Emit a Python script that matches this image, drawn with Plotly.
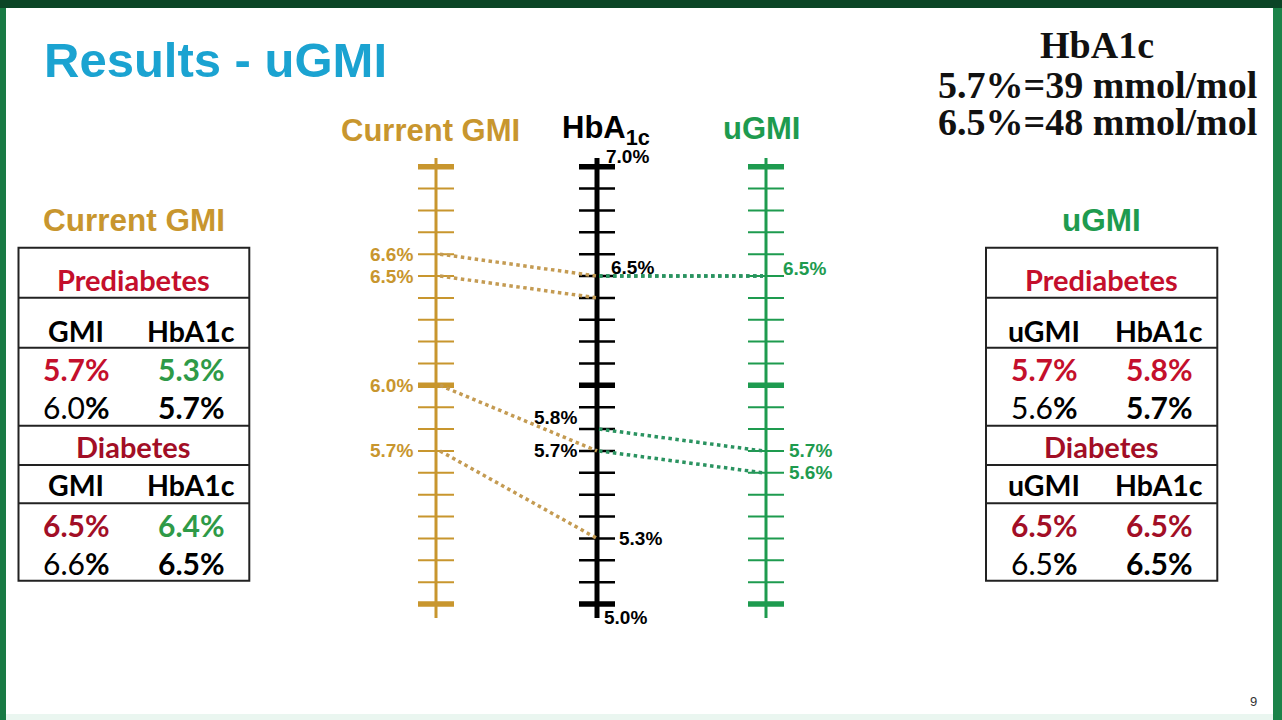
import numpy as np
import plotly.graph_objects as go

# ---- data ----
# Current GMI table: GMI -> measured HbA1c
gmi_pre = [5.7, 6.0]
gmi_pre_hba1c = [5.3, 5.7]
gmi_dia = [6.5, 6.6]
gmi_dia_hba1c = [6.4, 6.5]

# uGMI table: uGMI -> measured HbA1c
ugmi_pre = [5.7, 5.6]
ugmi_pre_hba1c = [5.8, 5.7]
ugmi_dia = [6.5, 6.5]
ugmi_dia_hba1c = [6.5, 6.5]

group_names = ["Prediabetes", "Diabetes"]
scale_names = ["Current GMI", "HbA<sub>1c</sub>", "uGMI"]
scale_min, scale_max, scale_step = 5.0, 7.0, 0.1
scale_major = [5.0, 6.0, 7.0]

gmi_labels = [6.6, 6.5, 6.0, 5.7]
hba1c_labels = [7.0, 6.5, 5.8, 5.7, 5.3, 5.0]
ugmi_labels = [6.5, 5.7, 5.6]

conversion_text = ["HbA1c", "5.7%=39 mmol/mol", "6.5%=48 mmol/mol"]

# ---- layout constants (pixels) ----
W, H = 1282, 720
GOLD = "#C8962E"
GOLD_DOT = "#C49B52"
GREEN = "#1E9B4F"
GREEN_DOT = "#2A9360"
RED = "#C40F2C"
DARK_RED = "#A20E26"
TGREEN = "#2E9A47"
CYAN = "#1BA3D1"

scale_x = [436, 597, 766]
Y7, Y5 = 166.7, 604.0          # pixel rows of 7.0 and 5.0
ppu = (Y5 - Y7) / (scale_max - scale_min)
y_lo, y_hi = 4.5, 7.5
dom = [1 - (Y5 + (scale_min - y_lo) * ppu) / H, 1 - (Y7 - (y_hi - scale_max) * ppu) / H]


def px(x):
    return x / W


def py(y):
    return 1 - y / H


def note(x, y, text, size, color, family="Liberation Sans", xa="center"):
    # text placed in slide pixels
    return dict(x=px(x), y=py(y), xref="paper", yref="paper", text=text, showarrow=False,
                xanchor=xa, yanchor="middle", font=dict(family=family, size=size, color=color))


fig = go.Figure()

ticks = np.round(np.arange(scale_min, scale_max + scale_step / 2, scale_step), 1)
axis_style = [(GOLD, 3, 2), ("#000000", 5, 2.5), (GREEN, 3, 2)]
for cx, (col, aw, tw) in zip(scale_x, axis_style):
    fig.add_trace(go.Scatter(x=[cx, cx], y=[scale_min - 0.064, scale_max + 0.04], mode="lines",
                             line=dict(color=col, width=aw), hoverinfo="skip"))
    xs, ys = [], []
    for t in ticks:
        if t in scale_major:
            continue
        xs += [cx - 18, cx + 18, None]
        ys += [t, t, None]
    fig.add_trace(go.Scatter(x=xs, y=ys, mode="lines", line=dict(color=col, width=tw), hoverinfo="skip"))
    xs, ys = [], []
    for t in scale_major:
        xs += [cx - 18, cx + 18, None]
        ys += [t, t, None]
    fig.add_trace(go.Scatter(x=xs, y=ys, mode="lines", line=dict(color=col, width=5.5), hoverinfo="skip"))

# dotted connectors GMI -> HbA1c
for g, h in zip(gmi_pre + gmi_dia, gmi_pre_hba1c + gmi_dia_hba1c):
    fig.add_trace(go.Scatter(x=[scale_x[0] + 4, scale_x[1]], y=[g, h], mode="lines",
                             line=dict(color=GOLD_DOT, width=3.5, dash="dot"), hoverinfo="skip"))
# dotted connectors HbA1c -> uGMI
for u, h in zip(ugmi_pre + ugmi_dia, ugmi_pre_hba1c + ugmi_dia_hba1c):
    fig.add_trace(go.Scatter(x=[scale_x[1] + 2, scale_x[2] - 3], y=[h, u], mode="lines",
                             line=dict(color=GREEN_DOT, width=3.5, dash="dot"), hoverinfo="skip"))

ann = []
lab_font = "Liberation Sans"
for v in gmi_labels:
    ann.append(dict(x=scale_x[0] - 21, y=v, xref="x", yref="y", text=f"<b>{v:.1f}%</b>",
                    xanchor="right", yanchor="middle", showarrow=False,
                    font=dict(family=lab_font, size=19, color=GOLD)))
hba1c_pos = [(7, 10, "left"), (12, 9, "left"), (-18, 12, "right"), (-18, 0, "right"),
             (20, 0, "left"), (5, -13, "left")]
for v, (dx, dy, side) in zip(hba1c_labels, hba1c_pos):
    ann.append(dict(x=scale_x[1] + dx, y=v, xref="x", yref="y", yshift=dy, text=f"<b>{v:.1f}%</b>",
                    xanchor=side, yanchor="middle", showarrow=False,
                    font=dict(family=lab_font, size=19, color="#000000")))
ugmi_pos = [(15, 8), (21, 0), (21, 0)]
for v, (dx, dy) in zip(ugmi_labels, ugmi_pos):
    ann.append(dict(x=scale_x[2] + dx, y=v, xref="x", yref="y", yshift=dy, text=f"<b>{v:.1f}%</b>",
                    xanchor="left", yanchor="middle", showarrow=False,
                    font=dict(family=lab_font, size=19, color=GREEN)))

# scale headers
for name, cx, col, hy in zip(scale_names, [430, 606, 762], [GOLD, "#000000", GREEN], [130, 130, 128]):
    ann.append(note(cx, hy, f"<b>{name}</b>", 31, col))

# title
ann.append(note(42, 60, "<b>Results - uGMI</b>", 49, CYAN, xa="left"))

# conversion note
for txt, yy in zip(conversion_text, [45, 85, 122]):
    ann.append(note(1097, yy, f"<b>{txt}</b>", 38, "#111111", family="Liberation Serif"))

ann.append(note(1253, 701, "9", 13, "#333333"))

shapes = []
# slide frame
shapes.append(dict(type="rect", xref="paper", yref="paper", x0=0, x1=1, y0=py(8), y1=1,
                   fillcolor="#0B4526", line_width=0))
shapes.append(dict(type="rect", xref="paper", yref="paper", x0=0, x1=px(6), y0=0, y1=py(8),
                   fillcolor="#187A44", line_width=0))
shapes.append(dict(type="rect", xref="paper", yref="paper", x0=px(1273), x1=1, y0=0, y1=py(8),
                   fillcolor="#1B8349", line_width=0))
shapes.append(dict(type="rect", xref="paper", yref="paper", x0=px(6), x1=px(1273), y0=0, y1=py(714),
                   fillcolor="#EAF6F0", line_width=0))

# tables
row_lines = [247.7, 297.7, 347.7, 425.7, 465, 503.3, 580.7]
tfont = "Lato"


def table(x0, x1, cols, title, title_col, col_name, pre_a, pre_b, dia_a, dia_b, first_colors):
    for yy in row_lines[1:-1]:
        shapes.append(dict(type="line", xref="paper", yref="paper", x0=px(x0), x1=px(x1),
                           y0=py(yy), y1=py(yy), line=dict(color="#222222", width=2)))
    shapes.append(dict(type="rect", xref="paper", yref="paper", x0=px(x0), x1=px(x1),
                       y0=py(row_lines[-1]), y1=py(row_lines[0]), line=dict(color="#222222", width=2)))
    mid = (x0 + x1) / 2
    ann.append(note(mid, 220, f"<b>{title}</b>", 31.5, title_col))
    for gname, gy, gcol in zip(group_names, [280, 446], [RED, DARK_RED]):
        ann.append(note(mid, gy, f"<b>{gname}</b>", 29, gcol, family=tfont))
    for hy in [331, 485]:
        for cxp, cname in zip(cols, [col_name, "HbA1c"]):
            ann.append(note(cxp, hy, f"<b>{cname}</b>", 28.5, "#000000", family=tfont))
    blocks = [(pre_a, pre_b, [369, 407], first_colors[0]), (dia_a, dia_b, [525, 563], first_colors[1])]
    for a, b, ys, fc in blocks:
        ann.append(note(cols[0], ys[0], f"<b>{a[0]:.1f}%</b>", 30, fc[0], family=tfont))
        ann.append(note(cols[1], ys[0], f"<b>{b[0]:.1f}%</b>", 30, fc[1], family=tfont))
        ann.append(note(cols[0], ys[1], f"{a[1]:.1f}<b>%</b>", 30, "#000000", family=tfont))
        ann.append(note(cols[1], ys[1], f"<b>{b[1]:.1f}%</b>", 30, "#000000", family=tfont))


table(18.5, 249.3, [76, 191], "Current GMI", GOLD, "GMI", gmi_pre, gmi_pre_hba1c, gmi_dia, gmi_dia_hba1c,
      [(RED, TGREEN), (DARK_RED, TGREEN)])
table(986, 1217.3, [1044, 1159], "uGMI", GREEN, "uGMI", ugmi_pre, ugmi_pre_hba1c, ugmi_dia, ugmi_dia_hba1c,
      [(RED, RED), (DARK_RED, DARK_RED)])

fig.update_layout(
    width=W, height=H, margin=dict(l=0, r=0, t=0, b=0),
    paper_bgcolor="white", plot_bgcolor="rgba(0,0,0,0)", showlegend=False,
    xaxis=dict(range=[0, W], domain=[0, 1], visible=False, fixedrange=True),
    yaxis=dict(range=[y_lo, y_hi], domain=dom, visible=False, fixedrange=True),
    shapes=shapes, annotations=ann,
)
fig.write_html("out.html", config={"displayModeBar": False},
               post_script="document.body.style.margin='0';")
